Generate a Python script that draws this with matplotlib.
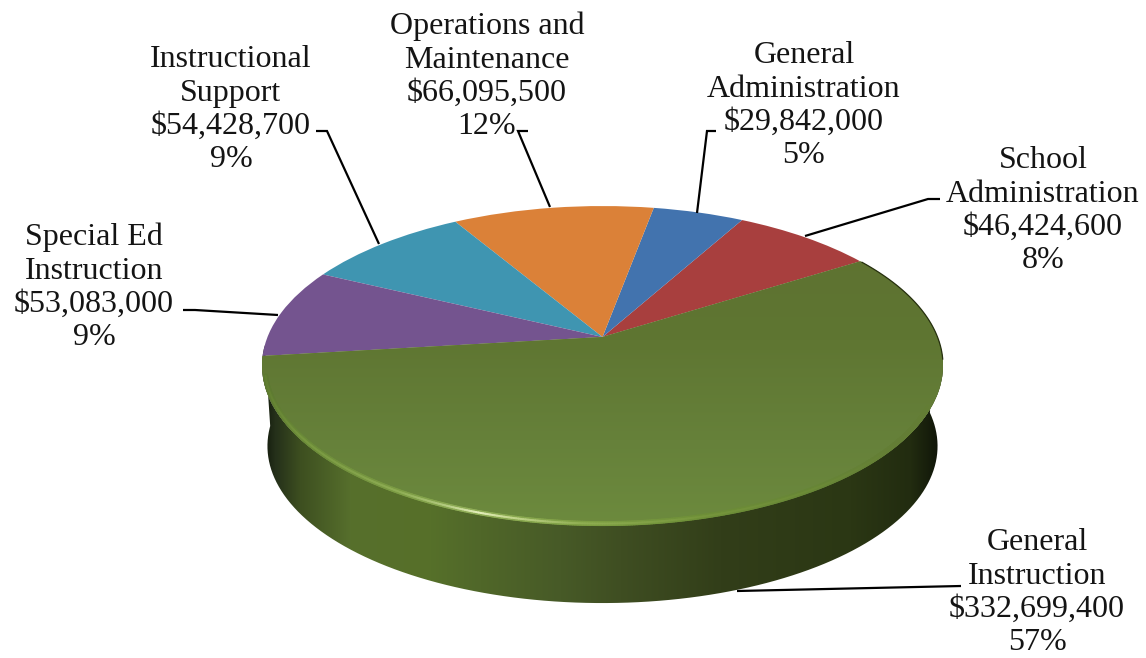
import numpy as np
import matplotlib
matplotlib.use("Agg")
import matplotlib.pyplot as plt
from matplotlib.colors import to_rgb
from matplotlib.collections import LineCollection
from matplotlib.patches import PathPatch
from matplotlib.path import Path
from matplotlib.transforms import Transform

# data, counter clockwise from the green/red edge
categories = ["School\nAdministration", "General\nAdministration", "Operations and\nMaintenance",
              "Instructional\nSupport", "Special Ed\nInstruction", "General\nInstruction"]
amounts = [46424600, 29842000, 66095500, 54428700, 53083000, 332699400]
percents = ["8%", "5%", "12%", "9%", "9%", "57%"]
colors = ["#a83f3e", "#4273ae", "#db8138", "#3f95b1", "#74548f", "#637a33"]

# label centres (last baseline) and leader lines, in pixels
label_x = [1043, 804, 487, 231, 94, 1037]
label_y = [268, 163, 134, 167, 345, 650]
leaders = [[(940, 199), (928, 199), (805, 236)],
           [(716, 131), (707, 131), (697, 213)],
           [(528, 131), (518, 131), (550, 207)],
           [(316, 131), (327, 131), (379, 244)],
           [(183, 310), (195, 310), (278, 315)],
           [(961, 586), (737, 591)]]

W, H = 1146, 658
CX, CY = 602.5, 337
RX, AY, K = 335, 154.4, 0.179
DEPTH = 81


def project(x, y, scale=1.0, down=0.0):
    w = 1 + K * y
    return CX + scale * RX * x / w, CY - scale * AY * y / w + down


class PieProjection(Transform):
    input_dims = 2
    output_dims = 2
    is_affine = False

    def transform_non_affine(self, values):
        values = np.asarray(values)
        px, py = project(values[:, 0], values[:, 1])
        return np.column_stack([px, py])


def ramp(xs, stops):
    pos = [s[0] for s in stops]
    rgb = np.array([to_rgb(s[1]) for s in stops])
    return np.column_stack([np.interp(xs, pos, rgb[:, i]) for i in range(3)])


plt.rcParams["font.family"] = ["Liberation Serif", "DejaVu Serif"]
fig = plt.figure(figsize=(W / 100, H / 100), dpi=100)
ax = fig.add_axes([0, 0, 1, 1])

wedges, _ = ax.pie(amounts, colors=colors, startangle=32.5, counterclock=True, radius=1,
                   wedgeprops={"linewidth": 0, "zorder": 3})
proj = PieProjection() + ax.transData
for w in wedges:
    w.set_transform(proj)

# side wall of the disc
t = np.radians(np.linspace(183, 362, 240))
tx, ty = project(np.cos(t), np.sin(t))
bx, by = project(np.cos(t[::-1]), np.sin(t[::-1]), 0.984, DEPTH)
wall = PathPatch(Path(np.column_stack([np.r_[tx, bx], np.r_[ty, by]])), fc="none", ec="none")
ax.add_patch(wall)
xs = np.arange(W)
wall_stops = [(262, "#10160a"), (275, "#25301a"), (300, "#3d4f20"), (350, "#566f2c"), (430, "#567029"),
              (480, "#506729"), (560, "#475a27"), (620, "#3f4e22"), (720, "#323e19"), (850, "#2b3714"),
              (910, "#222c10"), (935, "#12180a"), (945, "#050704")]
row = ramp(xs, wall_stops)
img = np.repeat(row[np.newaxis, :, :], 2, axis=0)
im = ax.imshow(img, extent=(0, W, 620, 340), aspect="auto", zorder=1)
im.set_clip_path(wall)

# shading on the top of the green slice
ys = np.arange(200, 530)
col = ramp(ys, [(200, "#5e7030"), (340, "#5f7632"), (440, "#66813a"), (530, "#6d8b3e")])
img2 = col[:, np.newaxis, :]
im2 = ax.imshow(img2, extent=(0, W, 530, 200), aspect="auto", zorder=4)
im2.set_clip_path(wedges[-1])

# rim highlight along the front edge, soft band first then the bright line
t = np.radians(np.linspace(194, 335, 400))
rx, ry = project(np.cos(t), np.sin(t), 0.992, 0.0)
pts = np.column_stack([rx, ry]).reshape(-1, 1, 2)
segs = np.concatenate([pts[:-1], pts[1:]], axis=1)
soft_stops = [(264, "#5c7830"), (300, "#6a8a38"), (400, "#7c9c44"), (470, "#90ae58"), (580, "#7fa044"),
              (700, "#6e8f38"), (830, "#668436"), (900, "#637d35")]
bright_stops = [(264, "#607e30"), (300, "#76963e"), (400, "#8fae55"), (445, "#b4cb80"), (478, "#e4efbb"),
                (510, "#c4d78e"), (580, "#8fae52"), (700, "#76963c"), (830, "#6a8836"), (900, "#637d35")]
ax.add_collection(LineCollection(segs, colors=ramp(rx[:-1], soft_stops), linewidths=3.6, zorder=5,
                                 capstyle="round"))
ax.add_collection(LineCollection(segs, colors=ramp(rx[:-1], bright_stops), linewidths=1.4, zorder=5,
                                 capstyle="round"))

# thin dark edge on the right
t = np.radians(np.linspace(-8, 32, 60))
ex, ey = project(np.cos(t), np.sin(t))
ax.plot(ex, ey, color="#26300f", lw=0.9, zorder=5)

for pts in leaders:
    ax.plot([p[0] for p in pts], [p[1] for p in pts], color="black", lw=1.6, zorder=6,
            solid_joinstyle="miter", solid_capstyle="butt")

for name, amt, pct, lx, ly in zip(categories, amounts, percents, label_x, label_y):
    ax.text(lx, ly, f"{name}\n${amt:,}\n{pct}", ha="center", va="baseline", multialignment="center",
            fontsize=23, linespacing=1.19, color="#141414", zorder=7)

ax.set_aspect("auto")
ax.set_xlim(0, W)
ax.set_ylim(H, 0)
ax.axis("off")

fig.savefig("out.png", dpi=100)
